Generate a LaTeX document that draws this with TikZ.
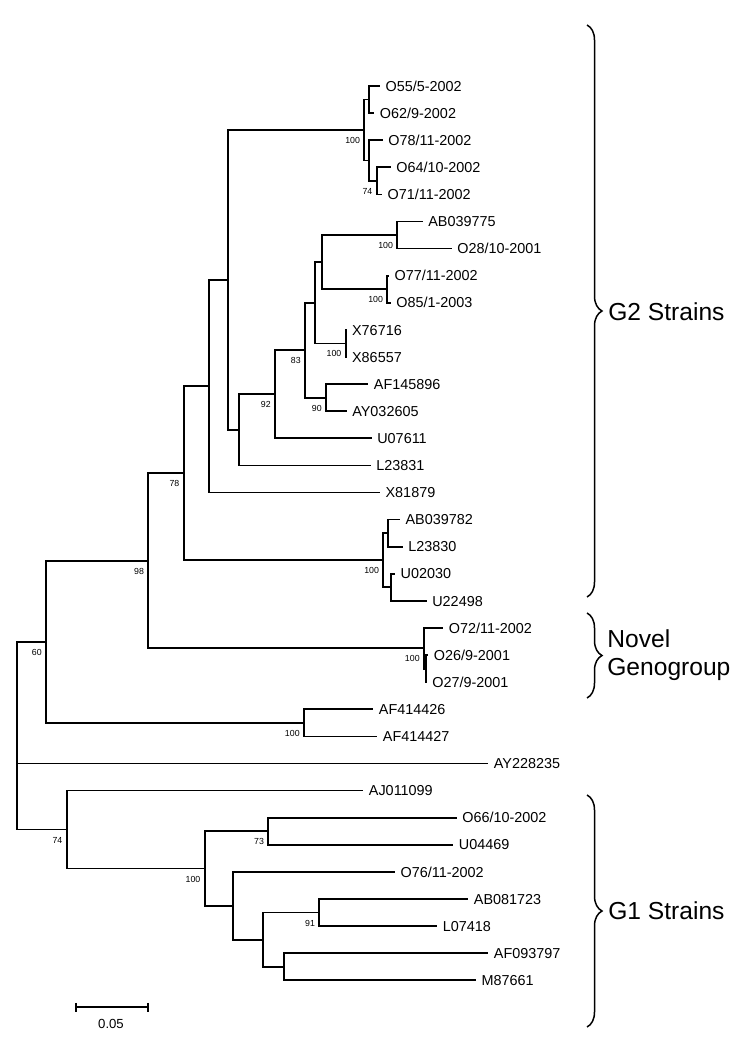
\documentclass[tikz,border=0pt]{standalone}
\usepackage{fontspec}
\setmainfont{Liberation Sans}
\usepackage{tikz}
\usetikzlibrary{calc,decorations.pathreplacing}

\begin{document}
\begin{tikzpicture}[x=0.02cm,y=-0.02cm,line join=miter,
  branch/.style={line width=1pt},
  leaf/.style={anchor=west,inner xsep=3pt,inner ysep=0pt,text height=5.9pt,text depth=0pt,font=\fontsize{8.2}{9.8}\selectfont},
  boot/.style={anchor=east,inner sep=0pt,font=\fontsize{5}{6}\selectfont},
  grp/.style={anchor=west,align=left,inner sep=0pt,font=\fontsize{14}{16}\selectfont},
  clade/.style={decorate,decoration={brace,amplitude=0.3cm},line width=0.85pt}]
\path[use as bounding box] (0,0) rectangle (750,1047);
\fill[white] (0,0) rectangle (750,1047);
% leaves, top to bottom
\node[leaf] (o55)   at (380,86)     {O55/5-2002};
\node[leaf] (o62)   at (374.3,113.1) {O62/9-2002};
\node[leaf] (o78)   at (382.7,140.2) {O78/11-2002};
\node[leaf] (o64)   at (390.7,167.3) {O64/10-2002};
\node[leaf] (o71)   at (382,194.4)   {O71/11-2002};
\node[leaf] (ab775) at (422.7,221.5) {AB039775};
\node[leaf] (o28)   at (451.7,248.6) {O28/10-2001};
\node[leaf] (o77)   at (389,275.7)   {O77/11-2002};
\node[leaf] (o85)   at (390.7,302.8) {O85/1-2003};
\node[leaf] (x716)  at (346.5,329.9) {X76716};
\node[leaf] (x557)  at (346.5,357.0) {X86557};
\node[leaf] (af896) at (368.3,384.1) {AF145896};
\node[leaf] (ay605) at (346.7,411.2) {AY032605};
\node[leaf] (u611)  at (371.7,438.3) {U07611};
\node[leaf] (l831)  at (370.7,465.4) {L23831};
\node[leaf] (x879)  at (380,492.5)   {X81879};
\node[leaf] (ab782) at (400,519.6)   {AB039782};
\node[leaf] (l830)  at (402.7,546.7) {L23830};
\node[leaf] (u030)  at (395,573.8)   {U02030};
\node[leaf] (u498)  at (426.7,600.9) {U22498};
\node[leaf] (o72)   at (443.3,628.0) {O72/11-2002};
\node[leaf] (o26)   at (428.3,655.1) {O26/9-2001};
\node[leaf] (o27)   at (426.7,682.2) {O27/9-2001};
\node[leaf] (af426) at (373.3,709.3) {AF414426};
\node[leaf] (af427) at (377.3,736.4) {AF414427};
\node[leaf] (ay235) at (488.3,763.5) {AY228235};
\node[leaf] (aj099) at (363.3,790.6) {AJ011099};
\node[leaf] (o66)   at (456.7,817.7) {O66/10-2002};
\node[leaf] (u469)  at (453.3,844.8) {U04469};
\node[leaf] (o76)   at (395,871.9)   {O76/11-2002};
\node[leaf] (ab723) at (468.3,899.0) {AB081723};
\node[leaf] (l418)  at (437.3,926.1) {L07418};
\node[leaf] (af797) at (488.3,953.2) {AF093797};
\node[leaf] (m661)  at (476,980.3)   {M87661};
% inner nodes of the tree
\coordinate (jA)  at (369.3,99.55);
\coordinate (jC)  at (376.7,180.85);
\coordinate (jB)  at (369.3,160.5);
\coordinate (jD)  at (364.3,130.0);
\coordinate (jW)  at (397.3,235.05);
\coordinate (jX)  at (387.3,289.25);
\coordinate (jU)  at (321.7,262.15);
\coordinate (jY)  at (345.7,343.45);
\coordinate (jV)  at (315,302.8);
\coordinate (jZ)  at (326,397.65);
\coordinate (jT)  at (305,350.2);
\coordinate (jS)  at (275,394.25);
\coordinate (jH)  at (239.3,429.8);
\coordinate (jE)  at (228.3,279.9);
\coordinate (jF)  at (209.3,386.2);
\coordinate (jAB) at (388.3,533.15);
\coordinate (jAC) at (390.7,587.35);
\coordinate (jAA) at (383.3,560.25);
\coordinate (jG)  at (183.7,473.2);
\coordinate (jNi) at (425.7,668.65);
\coordinate (jN)  at (424,648.3);
\coordinate (jI)  at (148.3,560.8);
\coordinate (jAF) at (304,722.85);
\coordinate (jJ)  at (46,641.8);
\coordinate (jM)  at (268.3,831.25);
\coordinate (jQ)  at (319.3,912.55);
\coordinate (jR)  at (284.3,966.75);
\coordinate (jP)  at (262.7,939.65);
\coordinate (jNN) at (232.7,905.8);
\coordinate (jL)  at (204.7,868.5);
\coordinate (jK)  at (66.7,829.55);
\coordinate (root) at (16.7,735.7);
% branches
\draw[branch] (jA) |- (o55.west) (jA) |- (o62.west);
\draw[branch] (jC) |- (o64.west) (jC) |- (o71.west);
\draw[branch] (jB) |- (o78.west) (jB) |- (jC);
\draw[branch] (jD) |- (jA) (jD) |- (jB);
\draw[branch] (jW) |- (ab775.west) (jW) |- (o28.west);
\draw[branch] (jX) |- (o77.west) (jX) |- (o85.west);
\draw[branch] (jU) |- (jW) (jU) |- (jX);
\draw[branch] (jY) |- (x716.west) (jY) |- (x557.west);
\draw[branch] (jV) |- (jU) (jV) |- (jY);
\draw[branch] (jZ) |- (af896.west) (jZ) |- (ay605.west);
\draw[branch] (jT) |- (jV) (jT) |- (jZ);
\draw[branch] (jS) |- (jT) (jS) |- (u611.west);
\draw[branch] (jH) |- (jS) (jH) |- (l831.west);
\draw[branch] (jE) |- (jD) (jE) |- (jH);
\draw[branch] (jF) |- (jE) (jF) |- (x879.west);
\draw[branch] (jAB) |- (ab782.west) (jAB) |- (l830.west);
\draw[branch] (jAC) |- (u030.west) (jAC) |- (u498.west);
\draw[branch] (jAA) |- (jAB) (jAA) |- (jAC);
\draw[branch] (jG) |- (jF) (jG) |- (jAA);
\draw[branch] (jNi) |- (o26.west) (jNi) |- (o27.west);
\draw[branch] (jN) |- (o72.west) (jN) |- (jNi);
\draw[branch] (jI) |- (jG) (jI) |- (jN);
\draw[branch] (jAF) |- (af426.west) (jAF) |- (af427.west);
\draw[branch] (jJ) |- (jI) (jJ) |- (jAF);
\draw[branch] (jM) |- (o66.west) (jM) |- (u469.west);
\draw[branch] (jQ) |- (ab723.west) (jQ) |- (l418.west);
\draw[branch] (jR) |- (af797.west) (jR) |- (m661.west);
\draw[branch] (jP) |- (jQ) (jP) |- (jR);
\draw[branch] (jNN) |- (o76.west) (jNN) |- (jP);
\draw[branch] (jL) |- (jM) (jL) |- (jNN);
\draw[branch] (jK) |- (aj099.west) (jK) |- (jL);
\draw[branch] (root) |- (jJ) (root) |- (ay235.west) (root) |- (jK);
% bootstrap values
\node[boot] (bD)  at ($(jD)+(-4,10.5)$)  {100};
\node[boot] (bC)  at ($(jC)+(-4,10.5)$)  {74};
\node[boot] (bW)  at ($(jW)+(-4,10.5)$)  {100};
\node[boot] (bX)  at ($(jX)+(-4,10.5)$)  {100};
\node[boot] (bY)  at ($(jY)+(-4,10.5)$)  {100};
\node[boot] (bT)  at ($(jT)+(-4,10.5)$)  {83};
\node[boot] (bZ)  at ($(jZ)+(-4,10.5)$)  {90};
\node[boot] (bS)  at ($(jS)+(-4,10.5)$)  {92};
\node[boot] (bG)  at ($(jG)+(-4,10.5)$)  {78};
\node[boot] (bAA) at ($(jAA)+(-4,10.5)$) {100};
\node[boot] (bI)  at ($(jI)+(-4,10.5)$)  {98};
\node[boot] (bN)  at ($(jN)+(-4,10.5)$)  {100};
\node[boot] (bAF) at ($(jAF)+(-4,10.5)$) {100};
\node[boot] (bJ)  at ($(jJ)+(-4,10.5)$)  {60};
\node[boot] (bK)  at ($(jK)+(-4,10.5)$)  {74};
\node[boot] (bL)  at ($(jL)+(-4,10.5)$)  {100};
\node[boot] (bM)  at ($(jM)+(-4,10.5)$)  {73};
\node[boot] (bQ)  at ($(jQ)+(-4,10.5)$)  {91};
% scale bar
\coordinate (sbl) at (76,1007.3);
\coordinate (sbr) at (148.3,1007.3);
\draw[branch] (sbl) -- (sbr);
\draw[branch] ($(sbl)+(0,-4.5)$) -- ($(sbl)+(0,4.5)$);
\draw[branch] ($(sbr)+(0,-4.5)$) -- ($(sbr)+(0,4.5)$);
\node[font=\fontsize{7.5}{9}\selectfont,inner sep=0pt] (sbt) at (111,1023.5) {0.05};
% clade braces
\coordinate (g2t) at (587,25);
\coordinate (g2b) at (587,597);
\coordinate (ngt) at (587,613);
\coordinate (ngb) at (587,698);
\coordinate (g1t) at (587,795);
\coordinate (g1b) at (587,1027);
\draw[clade] (g2t) -- (g2b);
\draw[clade] (ngt) -- (ngb);
\draw[clade] (g1t) -- (g1b);
\node[grp] (g2) at (608,312) {G2 Strains};
\node[grp] (ng) at (607,655) {Novel\\Genogroup};
\node[grp] (g1) at (608,911) {G1 Strains};
\end{tikzpicture}
\end{document}
